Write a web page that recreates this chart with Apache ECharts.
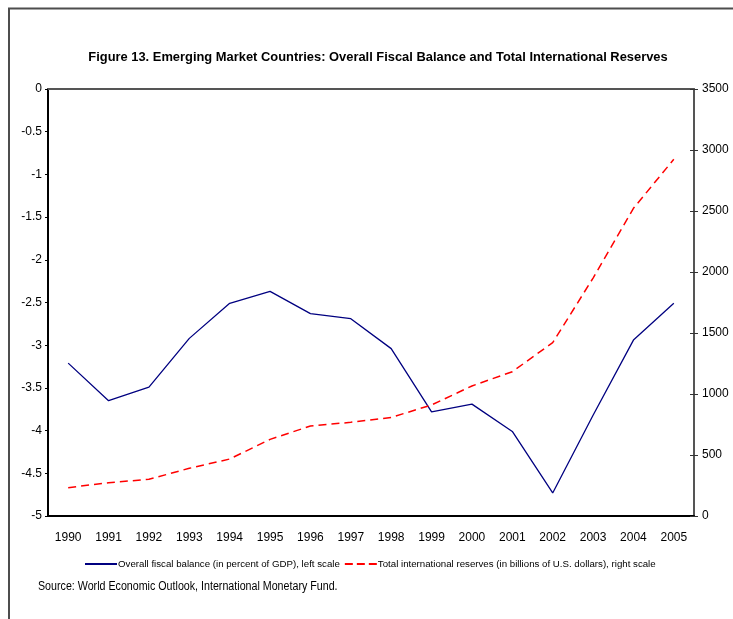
<!DOCTYPE html>
<html>
<head>
<meta charset="utf-8">
<script src="https://cdn.jsdelivr.net/npm/echarts@6/dist/echarts.min.js"></script>
<style>
  html, body { margin: 0; padding: 0; background: #fff; }
  #chart { width: 733px; height: 619px; }
</style>
</head>
<body>
<div id="chart"></div>
<script>
// years on the category axis
var years = ['1990', '1991', '1992', '1993', '1994', '1995', '1996', '1997',
  '1998', '1999', '2000', '2001', '2002', '2003', '2004', '2005'];

// overall fiscal balance, percent of GDP (left scale)
var fiscalBalance = [-3.21, -3.65, -3.49, -2.92, -2.51, -2.37, -2.63, -2.69,
  -3.04, -3.78, -3.69, -4.01, -4.73, -3.82, -2.94, -2.51];

// total international reserves, billions of USD (right scale)
var reserves = [232, 273, 301, 391, 467, 628, 738, 768,
  808, 910, 1066, 1183, 1421, 1950, 2522, 2924];

var leftTicks = { min: -5, max: 0, interval: 0.5 };
var rightTicks = { min: 0, max: 3500, interval: 500 };

var fiscalName = 'Overall fiscal balance (in percent of GDP), left scale';
var reservesName = 'Total international reserves (in billions of U.S. dollars), right scale';

var fontFam = '"Liberation Sans", Arial, sans-serif';

var chart = echarts.init(document.getElementById('chart'));

var option = {
  backgroundColor: '#fff',
  animation: false,
  textStyle: { fontFamily: fontFam },
  graphic: [
    {
      type: 'rect',
      shape: { x: 9, y: 8.5, width: 900, height: 900 },
      style: { fill: 'none', stroke: '#4d4d4d', lineWidth: 2 },
      silent: true
    },
    {
      // title, squeezed a little to look like the narrow face of the original
      type: 'text',
      x: 378,
      y: 57,
      scaleX: 0.955,
      style: {
        text: 'Figure 13. Emerging Market Countries: Overall Fiscal Balance and Total International Reserves',
        fontSize: 13.5,
        fontWeight: 'bold',
        fontFamily: fontFam,
        fill: '#000',
        align: 'center',
        verticalAlign: 'middle'
      }
    },
    {
      type: 'text',
      x: 38,
      y: 587,
      scaleX: 0.89,
      style: {
        text: 'Source: World Economic Outlook, International Monetary Fund.',
        fontSize: 12,
        fontFamily: fontFam,
        fill: '#000',
        align: 'left',
        verticalAlign: 'middle'
      }
    }
  ],
  legend: {
    left: 80,
    top: 554,
    itemWidth: 32,
    itemHeight: 2,
    itemGap: 5,
    textStyle: { fontSize: 9.7, color: '#000', fontFamily: fontFam, padding: [0, 0, 0, -4] },
    data: [
      { name: fiscalName, icon: 'rect', itemStyle: { color: '#000080' } },
      { name: reservesName, icon: 'path://M0,0h8v2h-8zM12,0h8v2h-8zM24,0h8v2h-8z', itemStyle: { color: '#ff0000' } }
    ]
  },
  grid: { left: 48, right: 39, top: 89, bottom: 103, containLabel: false },
  xAxis: [
    {
      type: 'category',
      data: years,
      boundaryGap: true,
      axisLine: { lineStyle: { color: '#555', width: 2 } },
      axisTick: { show: false },
      axisLabel: { color: '#000', fontSize: 12, margin: 16, fontFamily: fontFam },
      splitLine: { show: false }
    },
    {
      type: 'category',
      data: years,
      position: 'top',
      axisLine: { lineStyle: { color: '#000', width: 2 } },
      axisTick: { show: false },
      axisLabel: { show: false }
    }
  ],
  yAxis: [
    {
      type: 'value',
      position: 'left',
      min: leftTicks.min,
      max: leftTicks.max,
      interval: leftTicks.interval,
      axisLine: { show: true, lineStyle: { color: '#000', width: 2 } },
      axisTick: { show: true, length: 3, lineStyle: { color: '#000' } },
      axisLabel: { color: '#000', fontSize: 12, margin: 6, fontFamily: fontFam },
      splitLine: { show: false }
    },
    {
      type: 'value',
      position: 'right',
      min: rightTicks.min,
      max: rightTicks.max,
      interval: rightTicks.interval,
      axisLine: { show: true, lineStyle: { color: '#555', width: 2 } },
      axisTick: { show: true, length: 4, lineStyle: { color: '#333' } },
      axisLabel: {
        color: '#000', fontSize: 12, margin: 8, fontFamily: fontFam,
        formatter: function (v) { return String(v); }
      },
      splitLine: { show: false }
    },
    {
      // inner half of the crossing ticks on the right scale
      type: 'value',
      position: 'right',
      min: rightTicks.min,
      max: rightTicks.max,
      interval: rightTicks.interval,
      axisLine: { show: false },
      axisTick: { show: true, inside: true, length: 4, lineStyle: { color: '#333' } },
      axisLabel: { show: false },
      splitLine: { show: false }
    }
  ],
  series: [
    {
      name: fiscalName,
      type: 'line',
      yAxisIndex: 0,
      data: fiscalBalance,
      symbol: 'none',
      lineStyle: { color: '#000080', width: 1.3 },
      itemStyle: { color: '#000080' }
    },
    {
      name: reservesName,
      type: 'line',
      yAxisIndex: 1,
      data: reserves,
      symbol: 'none',
      lineStyle: { color: '#ff0000', width: 1.5, type: [8, 5] },
      itemStyle: { color: '#ff0000' }
    }
  ]
};

chart.setOption(option);
window.addEventListener('resize', chart.resize);
</script>
</body>
</html>
